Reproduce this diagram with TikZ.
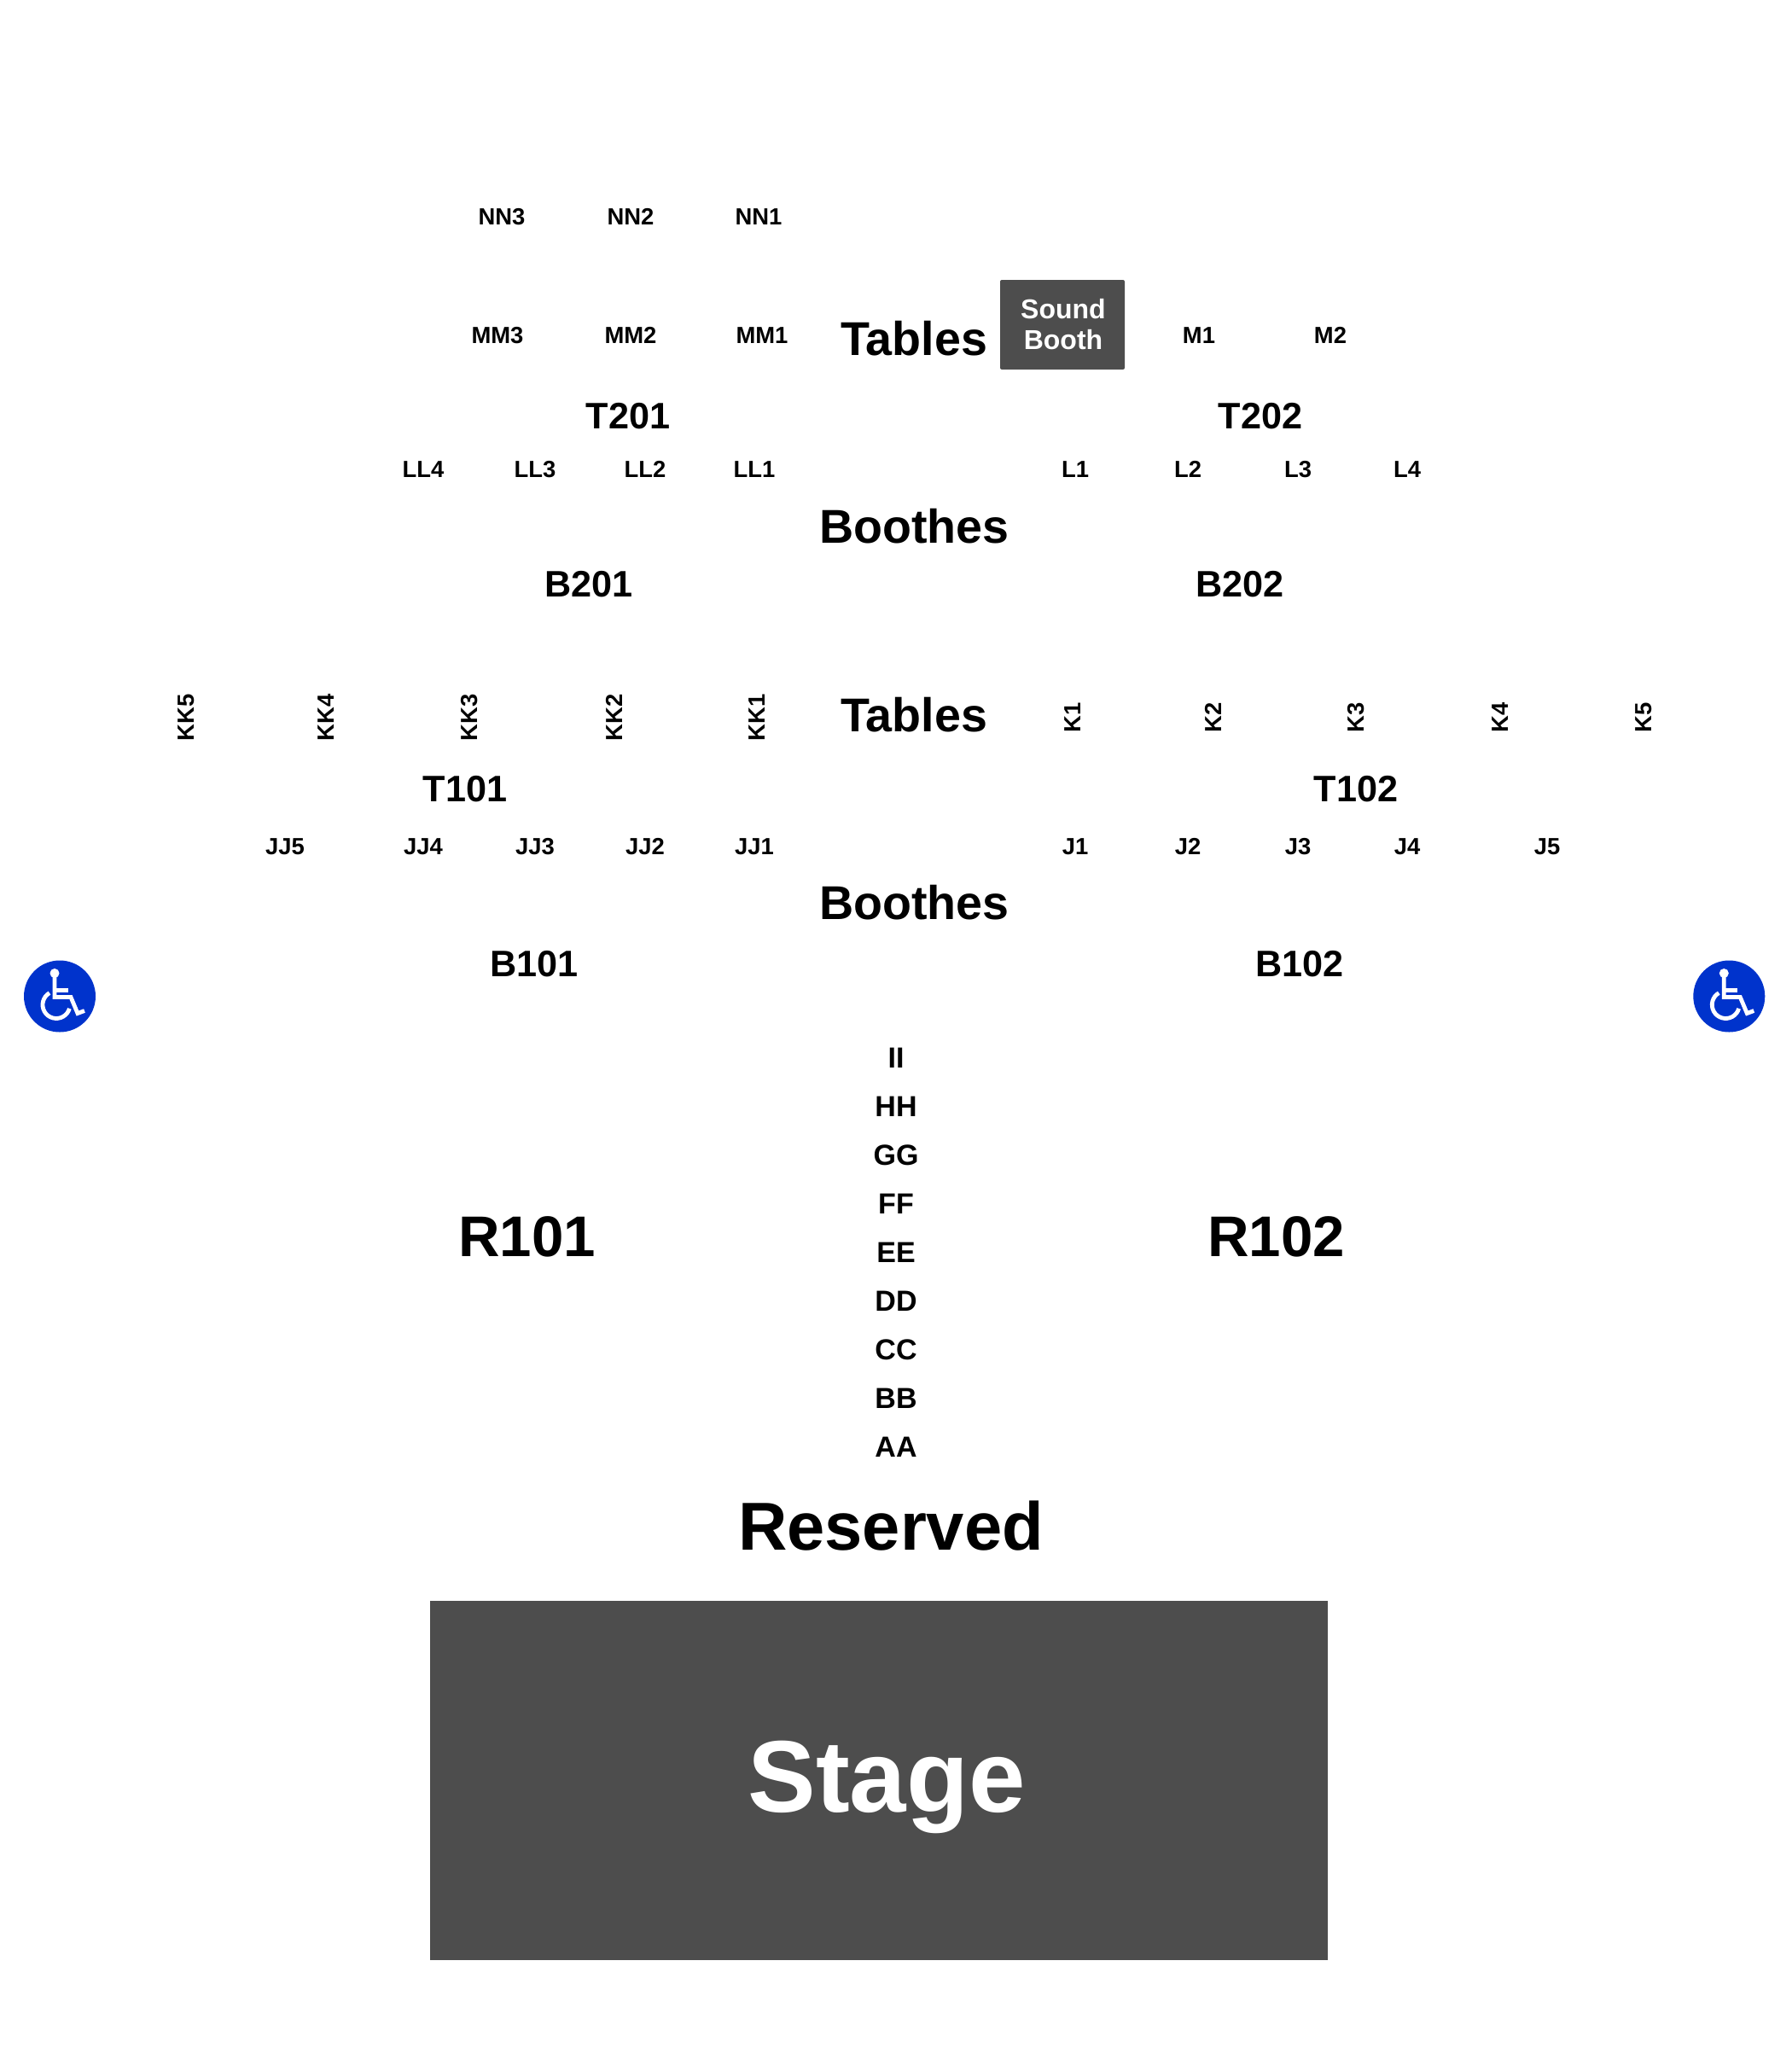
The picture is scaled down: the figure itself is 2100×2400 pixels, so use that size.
\documentclass[tikz,border=0pt]{standalone}
\usepackage{fontspec}
\setmainfont{Liberation Sans}
\definecolor{stagegray}{HTML}{4D4D4D}
\definecolor{accessblue}{HTML}{0033CC}
\tikzset{
	label/.style={inner sep=0,text height={.716*#1 pt},text depth=0pt,font=\bfseries\fontsize{#1}{#1}\selectfont},
	seat/.style={label=13.7},
	kseat/.style={label=13.7,rotate=90},
	rowname/.style={label=17},
	block/.style={label=21.6},
	area/.style={label=27.8},
	pics/wheelchair/.style={code={
		\begin{scope}[x=.5pt,y=.5pt,white,line width=2.4pt]
		\fill (-6,27) circle (5.5);
		\draw (-6,27) -- (-6,-1) -- (13,-1) -- (21,-20) -- (29,-17);
		\draw (-6,7) -- (10,7);
		\draw (-12,3.9) arc (120:344:16);
		\end{scope}
	}}
}
\begin{document}
\begin{tikzpicture}[x=.5pt,y=-.5pt]
\useasboundingbox (0,0) rectangle (2100,2400);
% small seat rows
\foreach \name/\px/\py in {NN3/588/253.5,NN2/739/253.5,NN1/889/253.5,
	MM3/583/392.5,MM2/739/392.5,MM1/893/392.5,M1/1405/392.5,M2/1559/392.5,
	LL4/496/549.5,LL3/627/549.5,LL2/756/549.5,LL1/884/549.5,L1/1260/549.5,L2/1392/549.5,L3/1521/549.5,L4/1649/549.5,
	JJ5/334/992,JJ4/496/992,JJ3/627/992,JJ2/756/992,JJ1/884/992,J1/1260/992,J2/1392/992,J3/1521/992,J4/1649/992,J5/1813/992}
	\node[seat] (\name) at (\px,\py) {\name};
\foreach \name/\px in {KK5/218,KK4/382,KK3/550,KK2/720,KK1/886.5,K1/1257,K2/1422,K3/1589,K4/1757.5,K5/1926}
	\node[kseat] (\name) at (\px,841) {\name};
% center rows
\foreach \name/\py in {II/1239.5,HH/1296.5,GG/1353.5,FF/1410.5,EE/1467.5,DD/1524.5,CC/1581.5,BB/1638.5,AA/1695.5}
	\node[rowname] (\name) at (1050,\py) {\name};
% blocks
\foreach \name/\px/\py in {T201/736/487,T202/1477/487,B201/690/684,B202/1453/684,T101/545/924.5,T102/1589/924.5,B101/626/1129.5,B102/1523/1129.5}
	\node[block] (\name) at (\px,\py) {\name};
\node[area] (tables2) at (1071,397) {Tables};
\node[area] (boothes2) at (1071.5,617) {Boothes};
\node[area] (tables1) at (1071,837.5) {Tables};
\node[area] (boothes1) at (1071.5,1057.5) {Boothes};
\node[label=33.6] (R101) at (617.5,1448) {R101};
\node[label=33.6] (R102) at (1495.5,1448) {R102};
\node[label=39.75] (reserved) at (1044,1788) {Reserved};
% stage and booth
\node[fill=stagegray,minimum width=526pt,minimum height=210.5pt,inner sep=0] (stagebox) at (1030,2086.5) {};
\node[label=59.7,white] (stage) at (1039,2081) {Stage};
\node[fill=stagegray,rounded corners=1pt,minimum width=73pt,minimum height=52.5pt,inner sep=0,
	text=white,align=center,font=\bfseries\fontsize{16}{18}\selectfont] (booth) at (1245,380.5) {\hspace*{1pt}Sound\\\hspace*{1pt}Booth};
% access icons
\node[circle,fill=accessblue,minimum size=42pt,inner sep=0] (accessL) at (70,1167.5) {};
\node[circle,fill=accessblue,minimum size=42pt,inner sep=0] (accessR) at (2026.3,1167.5) {};
\pic at (accessL) {wheelchair};
\pic at (accessR) {wheelchair};
\end{tikzpicture}
\end{document}
